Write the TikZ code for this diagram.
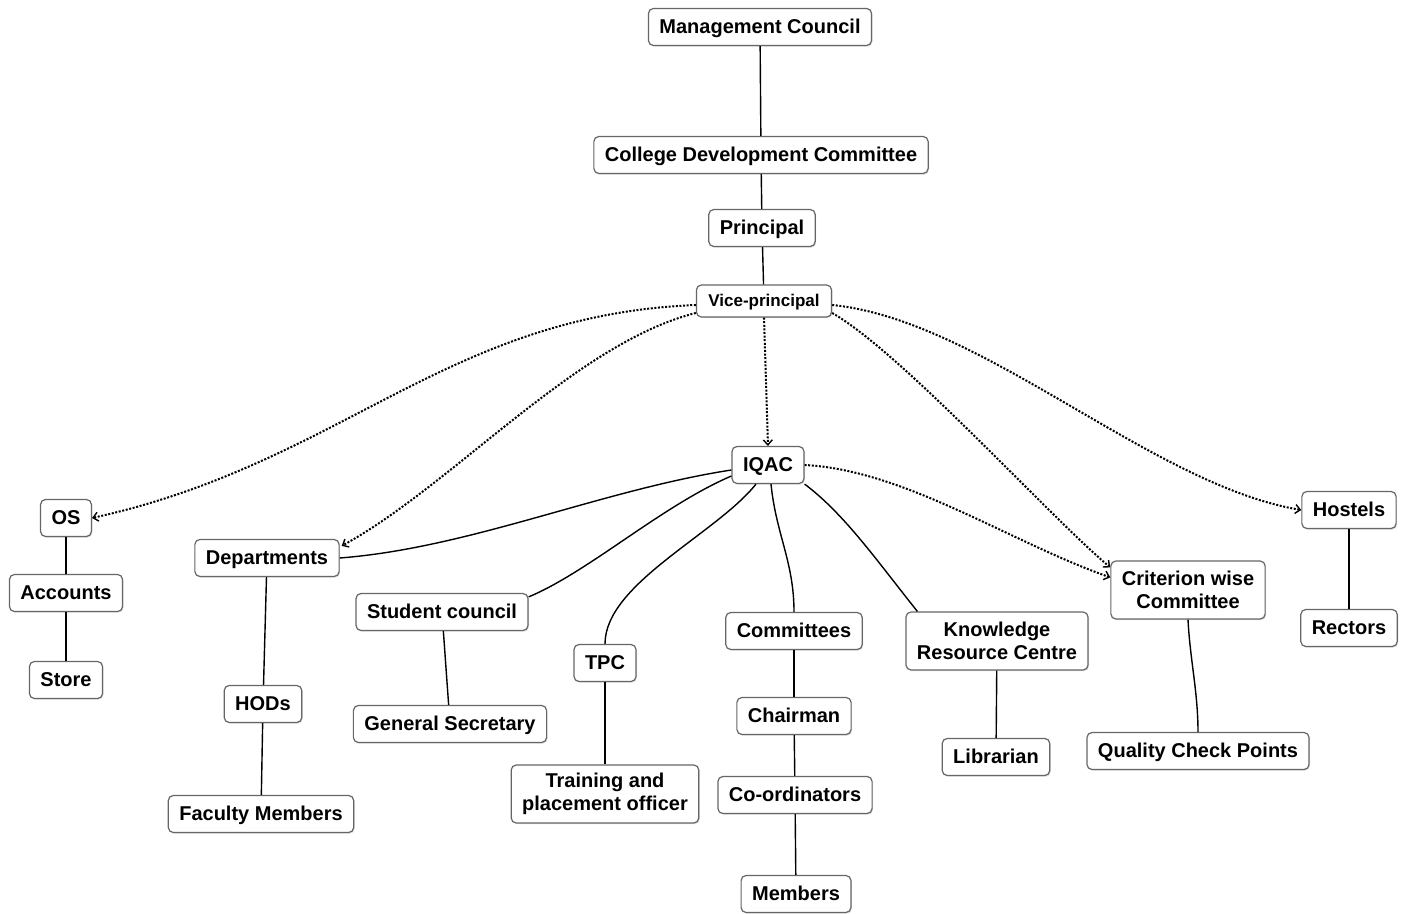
\documentclass[tikz,border=0pt]{standalone}
\usepackage{fontspec}
\setmainfont{Liberation Sans}
\usetikzlibrary{arrows.meta,shadows}

\begin{document}
\begin{tikzpicture}[x=0.5pt, y=-0.5pt, font=\bfseries\fontsize{10}{11.2}\selectfont,
  box/.style={draw=black!60, line width=0.6pt, rounded corners=2.5pt, fill=white, inner xsep=5.5pt, inner ysep=3pt,
    text height=7.5pt, text depth=0.8pt, minimum height=18.5pt, align=center,
    drop shadow={shadow xshift=0.5pt, shadow yshift=-0.6pt, fill=black!25}},
  twoline/.style={text height=, text depth=, minimum height=29pt},
  link/.style={line width=0.7pt},
  dots/.style={line width=1pt, dash pattern=on 1pt off 0.8pt, -{Straight Barb[length=2.5pt,width=4.5pt,line width=0.7pt]}}]
	\useasboundingbox (0,0) rectangle (1408,914);
	\node[box] (mc) at (760,27) {Management Council};
	\node[box] (cdc) at (761,155) {College Development Committee};
	\node[box] (prin) at (762,228) {Principal};
	\node[box, font=\bfseries\fontsize{8.5}{10}\selectfont, inner xsep=6pt, text height=6.4pt, text depth=0.6pt, minimum height=16pt] (vp) at (764,301) {Vice-principal};
	\node[box] (iqac) at (768,465) {IQAC};
	\node[box] (os) at (66,518) {OS};
	\node[box] (acc) at (66,593) {Accounts};
	\node[box] (store) at (66,680) {Store};
	\node[box] (dept) at (267,558) {Departments};
	\node[box] (hod) at (263,704) {HODs};
	\node[box] (fac) at (261,814) {Faculty Members};
	\node[box] (sc) at (442,612) {Student council};
	\node[box] (gs) at (450,724) {General Secretary};
	\node[box] (tpc) at (605,663) {TPC};
	\node[box, twoline] (tpo) at (605,794) {Training and\\placement officer};
	\node[box] (comm) at (794,631) {Committees};
	\node[box] (chair) at (794,716) {Chairman};
	\node[box] (coord) at (795,795) {Co-ordinators};
	\node[box] (memb) at (796,894) {Members};
	\node[box, twoline] (krc) at (997,641) {Knowledge\\Resource Centre};
	\node[box] (lib) at (996,757) {Librarian};
	\node[box, twoline] (crit) at (1188,590) {Criterion wise\\Committee};
	\node[box] (qcp) at (1198,751) {Quality Check Points};
	\node[box] (host) at (1349,510) {Hostels};
	\node[box] (rect) at (1349,628) {Rectors};

	\draw[link] (mc) -- (cdc);
	\draw[link] (cdc) -- (prin);
	\draw[link] (prin) -- (vp);
	\draw[link] (os) -- (acc);
	\draw[link] (acc) -- (store);
	\draw[link] (dept) -- (hod);
	\draw[link] (hod) -- (fac);
	\draw[link] (sc) -- (gs);
	\draw[link] (tpc) -- (tpo);
	\draw[link] (comm) -- (chair);
	\draw[link] (chair) -- (coord);
	\draw[link] (coord) -- (memb);
	\draw[link] (krc) -- (lib);
	\draw[link] (host) -- (rect);
	\draw[link] (crit.south) .. controls +(2,40) and +(0,-40) .. (qcp.north);

	\draw[dots] ([yshift=-2pt]vp.west) .. controls +(-250,10) and +(250,-55) .. (os.east);
	\draw[dots] ([yshift=-6pt]vp.west) .. controls +(-120,30) and +(110,-60) .. ([xshift=1pt,yshift=-3.5pt]dept.north east);
	\draw[dots] (vp.south) -- (iqac.north);
	\draw[dots] ([yshift=-6pt]vp.east) .. controls +(70,40) and +(-60,-50) .. ([yshift=-3.5pt]crit.north west);
	\draw[dots] ([yshift=-2pt]vp.east) .. controls +(150,15) and +(-150,-25) .. (host.west);
	\draw[dots] (iqac.east) .. controls +(100,5) and +(-100,-35) .. ([yshift=-8.5pt]crit.north west);

	\draw[link] ([yshift=-2.5pt]iqac.west) .. controls +(-130,20) and +(130,-10) .. (dept.east);
	\draw[link] ([yshift=-5.5pt]iqac.west) .. controls +(-70,30) and +(60,-25) .. ([yshift=-2pt]sc.north east);
	\draw[link] ([xshift=-6pt]iqac.south) .. controls +(-40,50) and +(0,-60) .. (tpc.north);
	\draw[link] ([xshift=1.5pt]iqac.south) .. controls +(5,50) and +(0,-50) .. (comm.north);
	\draw[link] (iqac.south east) .. controls +(40,30) and +(-40,-50) .. ([xshift=6pt]krc.north west);
\end{tikzpicture}
\end{document}
